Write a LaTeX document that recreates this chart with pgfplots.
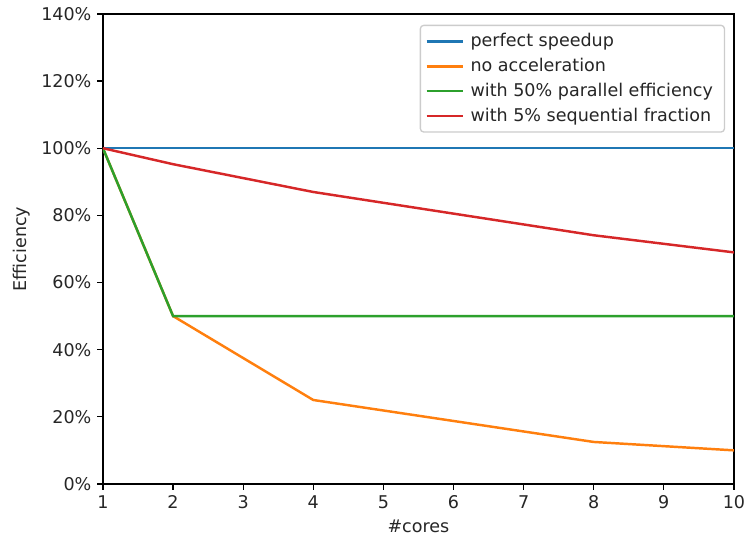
\documentclass[border=0pt]{standalone}
\usepackage{pgfplots}
\pgfplotsset{compat=1.18}
\usepackage{fontspec}
\setmainfont{DejaVu Sans}
\definecolor{tabblue}{HTML}{1F77B4}
\definecolor{taborange}{HTML}{FF7F0E}
\definecolor{tabgreen}{HTML}{2CA02C}
\definecolor{tabred}{HTML}{D62728}
\begin{document}
\begin{tikzpicture}
\useasboundingbox (-62.8pt,-32.9pt) rectangle (394.1pt,295.2pt);
\begin{axis}[
  at={(0,0)}, anchor=south west,
  scale only axis,
  width=384.9pt, height=286.7pt,
  xmin=1, xmax=10, ymin=0, ymax=140,
  xtick={1,2,3,4,5,6,7,8,9,10},
  ytick={0,20,40,60,80,100,120,140},
  yticklabels={0\%,20\%,40\%,60\%,80\%,100\%,120\%,140\%},
  /pgf/number format/assume math mode=true,
  axis line style={line width=0.8pt},
  tick style={line width=0.8pt, black},
  tick align=outside, tick pos=left,
  major tick length=3.5pt,
  xlabel={\#cores}, ylabel={Efficiency},
  tick label style={font=\fontsize{10.7}{12.8}\selectfont, text=black!85},
  label style={font=\fontsize{10.7}{12.8}\selectfont, text=black!85},
  legend style={at={(0.986,0.977)}, anchor=north east, draw=black!20, rounded corners=2pt,
    font=\fontsize{10.7}{12.8}\selectfont, text=black!85, row sep=1.5pt, inner sep=3pt, line width=0.8pt,
    nodes={inner xsep=4pt}},
  legend cell align=left,
  legend image code/.code={\draw[#1, line width=1.6pt] (0pt,0pt) -- (22pt,0pt);},
]
\addplot[color=tabblue, line width=1.5pt, mark=none] coordinates {(1,100) (2,100) (4,100) (8,100) (10,100)};
\addlegendentry{perfect speedup}
\addplot[color=taborange, line width=1.5pt, mark=none] coordinates {(1,100) (2,50) (4,25) (8,12.5) (10,10)};
\addlegendentry{no acceleration}
\addplot[color=tabgreen, line width=1.5pt, mark=none] coordinates {(1,100) (2,50) (4,50) (8,50) (10,50)};
\addlegendentry{with 50\% parallel efficiency}
\addplot[color=tabred, line width=1.5pt, mark=none] coordinates {(1,100) (2,95.24) (4,86.96) (8,74.07) (10,68.97)};
\addlegendentry{with 5\% sequential fraction}
\end{axis}
\end{tikzpicture}
\end{document}
